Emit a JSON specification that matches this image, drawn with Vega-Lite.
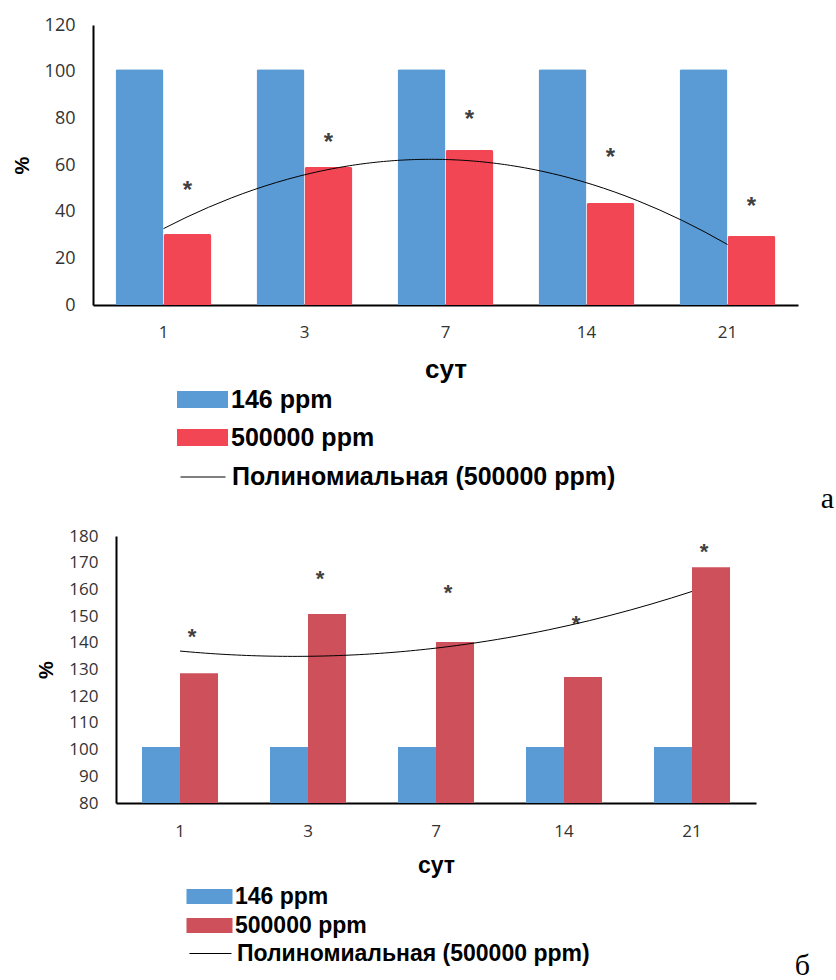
{
  "$schema": "https://vega.github.io/schema/vega-lite/v6.json",
  "padding": {"left": 11, "top": 16, "right": 0, "bottom": 0},
  "background": "white",
  "datasets": {
    "a": [
      {"day": "1", "idx": 1, "series": "146 ppm", "value": 101},
      {"day": "1", "idx": 1, "series": "500000 ppm", "value": 30.4, "star": 51.9},
      {"day": "3", "idx": 2, "series": "146 ppm", "value": 101},
      {"day": "3", "idx": 2, "series": "500000 ppm", "value": 59.1, "star": 72.4},
      {"day": "7", "idx": 3, "series": "146 ppm", "value": 101},
      {"day": "7", "idx": 3, "series": "500000 ppm", "value": 66.4, "star": 82.3},
      {"day": "14", "idx": 4, "series": "146 ppm", "value": 101},
      {"day": "14", "idx": 4, "series": "500000 ppm", "value": 43.7, "star": 66},
      {"day": "21", "idx": 5, "series": "146 ppm", "value": 101},
      {"day": "21", "idx": 5, "series": "500000 ppm", "value": 29.6, "star": 45}
    ],
    "b": [
      {"day": "1", "idx": 1, "series": "146 ppm", "value": 101},
      {"day": "1", "idx": 1, "series": "500000 ppm", "value": 128.6, "star": 144.4},
      {"day": "3", "idx": 2, "series": "146 ppm", "value": 101},
      {"day": "3", "idx": 2, "series": "500000 ppm", "value": 150.8, "star": 166.1},
      {"day": "7", "idx": 3, "series": "146 ppm", "value": 101},
      {"day": "7", "idx": 3, "series": "500000 ppm", "value": 140.3, "star": 160.9},
      {"day": "14", "idx": 4, "series": "146 ppm", "value": 101},
      {"day": "14", "idx": 4, "series": "500000 ppm", "value": 127.2, "star": 149.3},
      {"day": "21", "idx": 5, "series": "146 ppm", "value": 101},
      {"day": "21", "idx": 5, "series": "500000 ppm", "value": 168.3, "star": 176.3}
    ]
  },
  "spacing": 13,
  "vconcat": [
    {
      "spacing": 0,
      "hconcat": [
        {
          "width": 1,
          "height": 10,
          "data": {"values": []},
          "mark": {"type": "point", "opacity": 0}
        },
        {
          "data": {"name": "a"},
          "width": 705,
          "height": 280,
          "title": {"text": "а", "orient": "bottom", "anchor": "end", "frame": "group", "font": "Liberation Serif", "fontSize": 30, "fontWeight": "normal", "color": "black", "dx": 36, "dy": 102, "offset": 0},
          "layer": [
            {
              "layer": [
                {
                  "mark": {"type": "bar", "cornerRadiusTopLeft": 2, "cornerRadiusTopRight": 2},
                  "encoding": {
                    "x": {"field": "day", "type": "nominal", "sort": ["1", "3", "7", "14", "21"], "scale": {"paddingInner": 0.32, "paddingOuter": 0.16}, "axis": {"title": "сут", "labelAngle": 0, "labelPadding": 19, "titlePadding": 16, "titleFontSize": 26}},
                    "xOffset": {"field": "series", "type": "nominal", "sort": ["146 ppm", "500000 ppm"]},
                    "y": {"field": "value", "type": "quantitative", "scale": {"domain": [0, 120], "nice": false}, "axis": {"title": "%", "values": [0, 20, 40, 60, 80, 100, 120], "titleFontSize": 20, "labelFontSize": 18, "labelPadding": 18, "titlePadding": 12}},
                    "color": {"field": "series", "type": "nominal", "scale": {"domain": ["146 ppm", "500000 ppm"], "range": ["#5B9BD5", "#F24654"]},
                      "legend": {"orient": "none", "legendX": 179, "legendY": 362, "title": null, "symbolType": "M-2.04,-0.68H2.04V0.68H-2.04Z", "symbolSize": 625, "symbolStrokeWidth": 0, "labelFontSize": 25, "rowPadding": 12, "labelOffset": 16}}
                  }
                },
                {
                  "transform": [{"filter": "isValid(datum.star)"}],
                  "mark": {"type": "text", "text": "*", "font": "Liberation Sans", "fontSize": 24, "fontWeight": "bold", "color": "#404040", "baseline": "alphabetic", "dy": 14},
                  "encoding": {
                    "x": {"field": "day", "type": "nominal", "sort": ["1", "3", "7", "14", "21"]},
                    "xOffset": {"field": "series", "type": "nominal", "sort": ["146 ppm", "500000 ppm"]},
                    "y": {"field": "star", "type": "quantitative"}
                  }
                }
              ]
            },
            {
              "transform": [
                {"filter": "datum.series === '500000 ppm'"},
                {"regression": "value", "on": "idx", "method": "poly", "order": 2, "extent": [1, 5]}
              ],
              "mark": {"type": "line", "strokeWidth": 1},
              "encoding": {
                "x": {"field": "idx", "type": "quantitative", "scale": {"domain": [0.5, 5.5], "nice": false, "zero": false}, "axis": null},
                "y": {"field": "value", "type": "quantitative"},
                "stroke": {"datum": "Полиномиальная (500000 ppm)", "scale": {"range": ["black"]},
                  "legend": {"orient": "none", "legendX": 169, "legendY": 429, "title": null, "symbolType": "stroke", "symbolSize": 2025, "symbolStrokeWidth": 1, "labelFontSize": 25, "labelOffset": 6}}
              }
            }
          ],
          "resolve": {"scale": {"x": "independent"}}
        }
      ]
    },
    {
      "spacing": 0,
      "hconcat": [
        {
          "width": 25,
          "height": 10,
          "data": {"values": []},
          "mark": {"type": "point", "opacity": 0}
        },
        {
          "data": {"name": "b"},
          "width": 640,
          "height": 267,
          "title": {"text": "б", "orient": "bottom", "anchor": "end", "frame": "group", "font": "Liberation Serif", "fontSize": 30, "fontWeight": "normal", "color": "black", "dx": 54, "dy": 74, "offset": 0},
          "layer": [
            {
              "layer": [
                {
                  "mark": {"type": "bar", "clip": true},
                  "encoding": {
                    "x": {"field": "day", "type": "nominal", "sort": ["1", "3", "7", "14", "21"], "scale": {"paddingInner": 0.406, "paddingOuter": 0.203}, "axis": {"title": "сут", "labelAngle": 0, "labelPadding": 20, "titlePadding": 15, "titleFontSize": 23}},
                    "xOffset": {"field": "series", "type": "nominal", "sort": ["146 ppm", "500000 ppm"]},
                    "y": {"field": "value", "type": "quantitative", "scale": {"domain": [80, 180], "nice": false, "zero": false}, "axis": {"title": "%", "values": [80, 90, 100, 110, 120, 130, 140, 150, 160, 170, 180], "tickCount": 11, "labelOverlap": false, "labelSeparation": 0, "labelBound": false, "titleFontSize": 20, "labelFontSize": 17, "labelPadding": 18, "titlePadding": 12}},
                    "color": {"field": "series", "type": "nominal", "scale": {"domain": ["146 ppm", "500000 ppm"], "range": ["#5B9BD5", "#CD505A"]},
                      "legend": {"orient": "none", "legendX": 187, "legendY": 349, "title": null, "symbolType": "M-2,-0.65H2V0.65H-2Z", "symbolSize": 529, "symbolStrokeWidth": 0, "labelFontSize": 23, "rowPadding": 5, "labelOffset": 14}}
                  }
                },
                {
                  "transform": [{"filter": "isValid(datum.star)"}],
                  "mark": {"type": "text", "text": "*", "font": "Liberation Sans", "fontSize": 22, "fontWeight": "bold", "color": "#404040", "baseline": "alphabetic", "dy": 13, "dx": -7},
                  "encoding": {
                    "x": {"field": "day", "type": "nominal", "sort": ["1", "3", "7", "14", "21"]},
                    "xOffset": {"field": "series", "type": "nominal", "sort": ["146 ppm", "500000 ppm"]},
                    "y": {"field": "star", "type": "quantitative"}
                  }
                }
              ]
            },
            {
              "transform": [
                {"filter": "datum.series === '500000 ppm'"},
                {"regression": "value", "on": "idx", "method": "poly", "order": 2, "extent": [1, 5]}
              ],
              "mark": {"type": "line", "strokeWidth": 1},
              "encoding": {
                "x": {"field": "idx", "type": "quantitative", "scale": {"domain": [0.5, 5.5], "nice": false, "zero": false}, "axis": null},
                "y": {"field": "value", "type": "quantitative"},
                "stroke": {"datum": "Полиномиальная (500000 ppm)", "scale": {"range": ["black"]},
                  "legend": {"orient": "none", "legendX": 178, "legendY": 396, "title": null, "symbolType": "stroke", "symbolSize": 1764, "symbolStrokeWidth": 1, "labelFontSize": 23, "labelOffset": 5}}
              }
            }
          ],
          "resolve": {"scale": {"x": "independent"}}
        }
      ]
    }
  ],
  "resolve": {"scale": {"x": "independent", "y": "independent", "color": "independent", "stroke": "independent", "xOffset": "independent"}},
  "config": {
    "view": {"stroke": null},
    "axis": {"domainColor": "black", "domainWidth": 2, "ticks": false, "grid": false, "labelOverlap": false, "labelFont": "Open Sans", "labelFontSize": 17, "labelColor": "#333333", "titleFont": "Liberation Sans", "titleFontWeight": "bold", "titleColor": "black"},
    "axisY": {"labelOverlap": false},
    "legend": {"labelFont": "Liberation Sans", "labelFontWeight": "bold", "labelColor": "black", "labelLimit": 800, "padding": 0, "offset": 0}
  }
}
